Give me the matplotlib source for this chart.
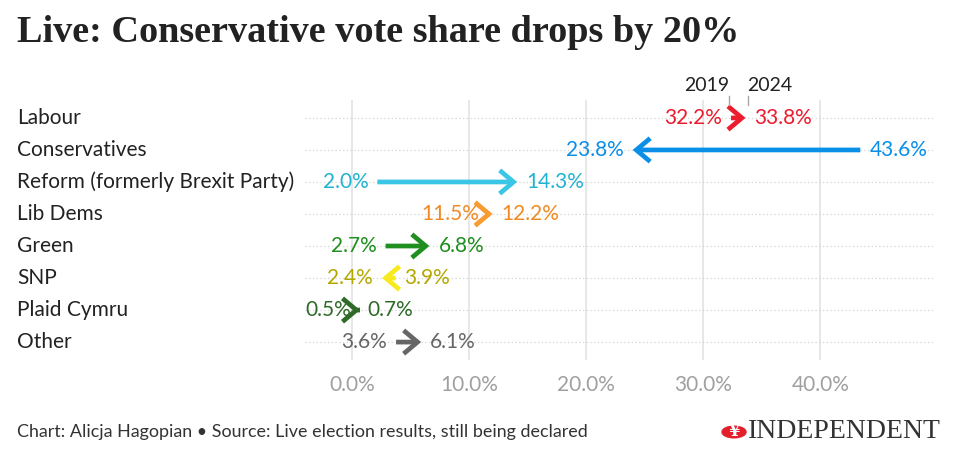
import numpy as np
import matplotlib.pyplot as plt
from matplotlib.patches import Circle

parties = ["Labour", "Conservatives", "Reform (formerly Brexit Party)", "Lib Dems",
           "Green", "SNP", "Plaid Cymru", "Other"]
share_2019 = [32.2, 43.6, 2.0, 11.5, 2.7, 3.9, 0.5, 3.6]
share_2024 = [33.8, 23.8, 14.3, 12.2, 6.8, 2.4, 0.7, 6.1]
arrow_colors = ["#ec1c2e", "#0a8fe8", "#3cc6e6", "#f89b30", "#1f8f1f", "#f7ea1e", "#2f6b28", "#666666"]
text_colors = ["#ec1c2e", "#0a8fe8", "#22b3d2", "#f08a25", "#1f8f1f", "#b3a800", "#2f6b28", "#666666"]
xticks = [0, 10, 20, 30, 40]

plt.rcParams['font.family'] = ['Lato', 'DejaVu Sans']

fig = plt.figure(figsize=(9.59, 4.66), dpi=100)
ax = fig.add_axes([305/959, 1-360/466, 630/959, 260/466])
ax.set_xlim(-4.0, 49.8)
ax.set_ylim(7.56, -0.56)

for t in xticks:
    ax.axvline(t, color="#e3e3e3", lw=1.2, zorder=0)
for i in range(len(parties)):
    ax.axhline(i, color="#d5d5d5", lw=0.9, ls=(0, (1, 2)), zorder=0)

for i, p in enumerate(parties):
    a, b = share_2019[i], share_2024[i]
    ax.annotate("", xy=(b, i), xytext=(a, i),
                arrowprops=dict(arrowstyle="->,head_length=0.5,head_width=0.42",
                                color=arrow_colors[i], lw=3.4, shrinkA=1.5, shrinkB=1.5,
                                mutation_scale=20, capstyle="butt", joinstyle="miter"))
    d = 1 if b >= a else -1
    ax.annotate(f"{a:.1f}%", (a, i), xytext=(-5*d, 0), textcoords="offset points",
                ha="right" if d > 0 else "left", va="center", fontsize=15, color=text_colors[i])
    ax.annotate(f"{b:.1f}%", (b, i), xytext=(5*d, 0), textcoords="offset points",
                ha="left" if d > 0 else "right", va="center", fontsize=15, color=text_colors[i])
    fig.text(17/959, ax.transData.transform((0, i))[1]/466, p, ha="left", va="center",
             fontsize=15, color="#222222")

# year header above Labour
for v, lab, ha in [(share_2019[0], "2019", "right"), (share_2024[0], "2024", "left")]:
    ax.plot([v, v], [-0.4, -0.68], color="#a8a8a8", lw=1.0, clip_on=False, zorder=5)
    ax.text(v, -1.0, lab, ha=ha, va="center", fontsize=14, color="#222222", clip_on=False)

ax.set_xticks(xticks)
ax.set_xticklabels([f"{t:.1f}%" for t in xticks], fontsize=15, color="#a0a0a0")
ax.tick_params(axis="x", length=0, pad=11)
ax.set_yticks([])
for s in ax.spines.values():
    s.set_visible(False)

fig.text(17/959, 1-33/466, "Live: Conservative vote share drops by 20%", family="Liberation Serif",
         fontweight="bold", fontsize=27.5, color="#222222", va="center", ha="left")
fig.text(17/959, 1-432/466, "Chart: Alicja Hagopian \u2022 Source: Live election results, still being declared",
         fontsize=12.9, color="#333333", va="center", ha="left")

# logo
fig.patches.append(Circle((734/959, 1-432/466), 12/959, transform=fig.transFigure,
                          color="#e2202c", zorder=3))
fig.text(734/959, 1-432/466, "\u00a5", color="white", fontsize=12, fontweight="bold",
         ha="center", va="center", family="DejaVu Serif")
fig.text(748/959, 1-432/466, "INDEPENDENT", family="Liberation Serif", fontsize=20,
         color="#333333", va="center", ha="left")

fig.savefig("out.png", dpi=100)
